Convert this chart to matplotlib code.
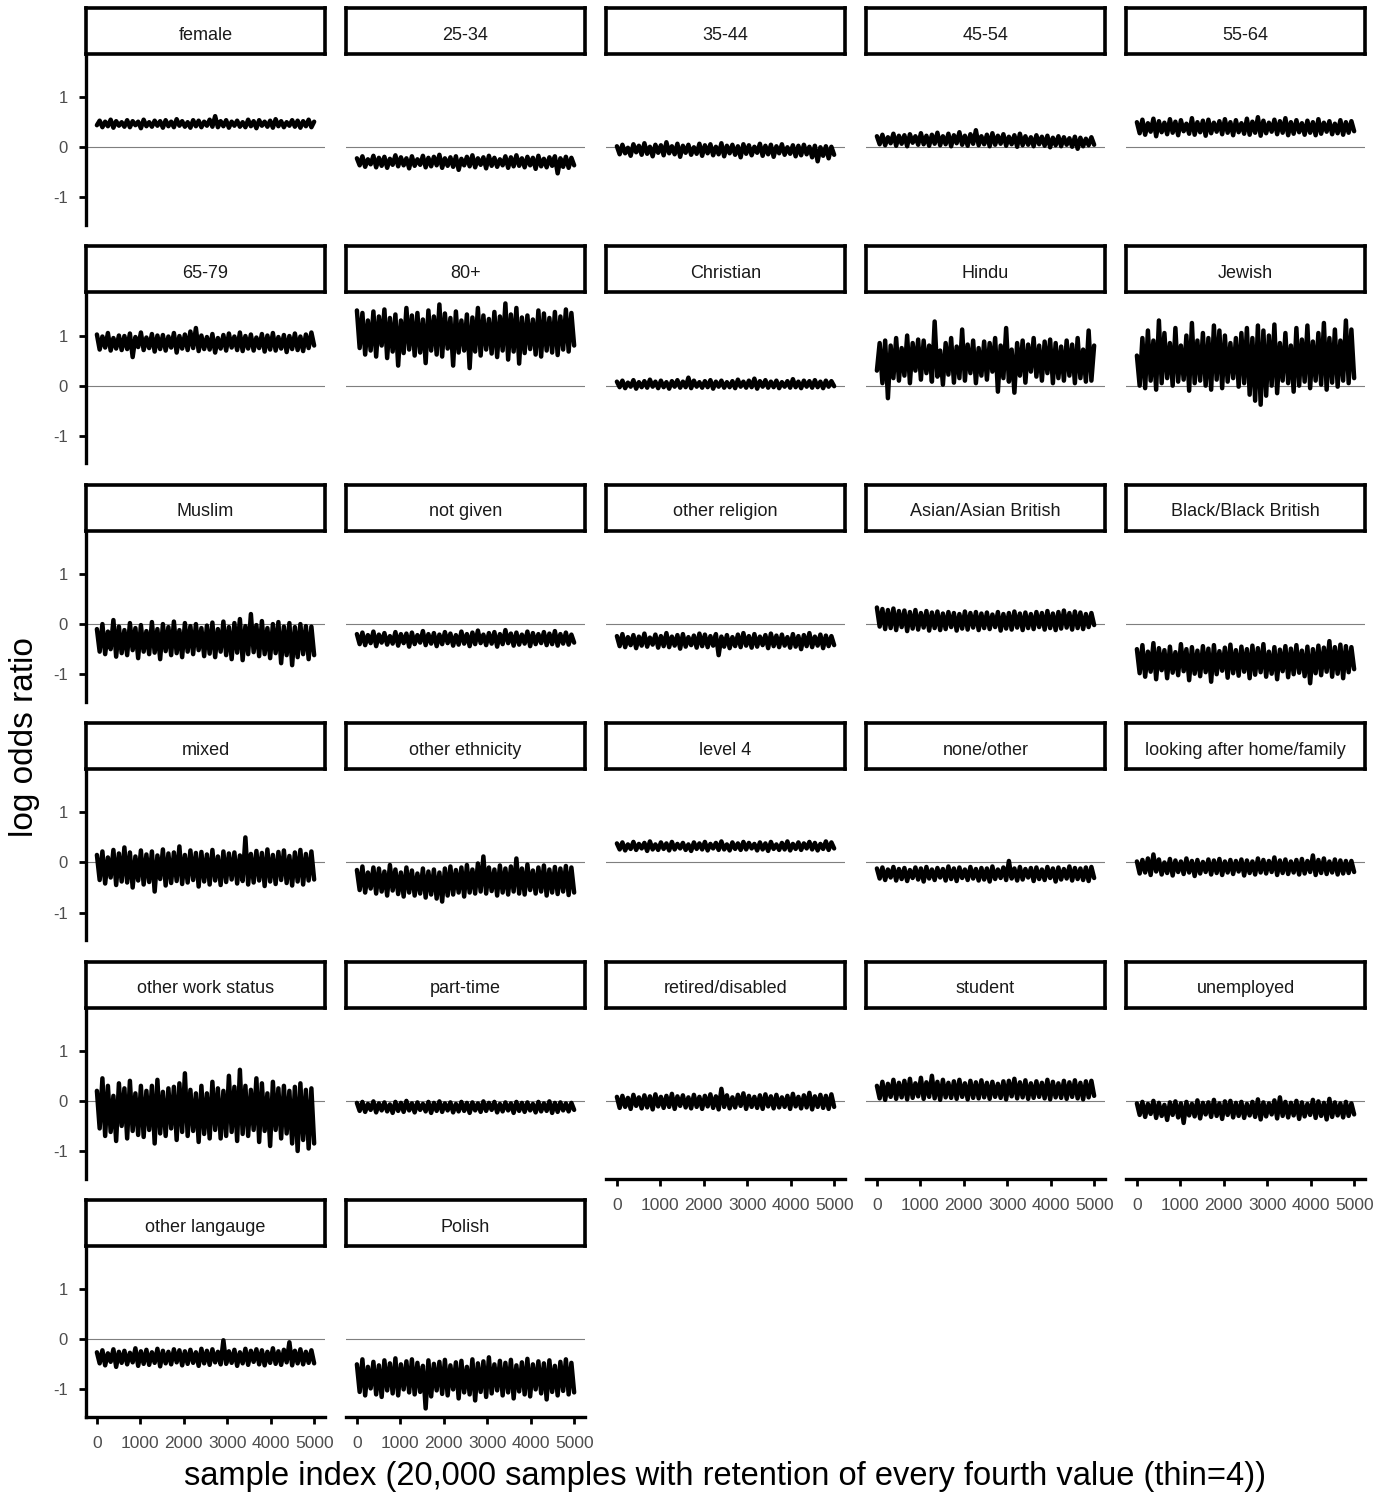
import numpy as np
import matplotlib
matplotlib.use("Agg")
import matplotlib.pyplot as plt

plt.rcParams['font.family'] = ['Liberation Sans', 'DejaVu Sans']

# facet labels, in facet_wrap order (5 columns)
labels = ["female", "25-34", "35-44", "45-54", "55-64",
          "65-79", "80+", "Christian", "Hindu", "Jewish",
          "Muslim", "not given", "other religion", "Asian/Asian British", "Black/Black British",
          "mixed", "other ethnicity", "level 4", "none/other", "looking after home/family",
          "other work status", "part-time", "retired/disabled", "student", "unemployed",
          "other langauge", "Polish"]

# traces (thinned, one value per ~60 samples)
female = [0.44,0.53,0.40,0.51,0.42,0.55,0.39,0.52,0.43,0.50,0.41,0.54,0.40,0.52,0.44,0.51,0.38,0.55,0.42,0.50,
          0.41,0.53,0.43,0.52,0.39,0.54,0.42,0.51,0.40,0.56,0.43,0.52,0.41,0.50,0.39,0.54,0.42,0.53,0.40,0.51,
          0.43,0.55,0.41,0.62,0.40,0.52,0.42,0.54,0.39,0.51,0.43,0.53,0.41,0.50,0.40,0.55,0.42,0.52,0.38,0.54,
          0.43,0.51,0.41,0.53,0.39,0.56,0.42,0.52,0.40,0.50,0.43,0.54,0.41,0.53,0.39,0.52,0.42,0.55,0.40,0.51]
age_25_34 = [-0.22,-0.36,-0.18,-0.39,-0.24,-0.34,-0.17,-0.40,-0.21,-0.37,-0.19,-0.41,-0.23,-0.35,-0.16,-0.38,-0.20,-0.36,-0.22,-0.42,
             -0.18,-0.37,-0.24,-0.35,-0.17,-0.40,-0.21,-0.38,-0.19,-0.36,-0.15,-0.41,-0.22,-0.37,-0.20,-0.39,-0.18,-0.45,-0.23,-0.36,
             -0.19,-0.38,-0.16,-0.40,-0.22,-0.35,-0.20,-0.42,-0.17,-0.37,-0.21,-0.39,-0.24,-0.36,-0.18,-0.41,-0.20,-0.38,-0.16,-0.37,
             -0.22,-0.40,-0.19,-0.36,-0.21,-0.43,-0.17,-0.38,-0.23,-0.40,-0.20,-0.37,-0.18,-0.52,-0.22,-0.39,-0.19,-0.41,-0.21,-0.36]
age_35_44 = [0.02,-0.14,0.05,-0.12,-0.01,-0.17,0.06,-0.10,0.03,-0.15,0.08,-0.13,0.01,-0.18,0.05,-0.11,0.04,-0.16,0.10,-0.12,
             0.02,-0.14,0.07,-0.19,0.03,-0.11,0.05,-0.15,0.00,-0.13,0.07,-0.17,0.04,-0.12,0.06,-0.16,0.01,-0.14,0.08,-0.18,
             0.03,-0.12,0.05,-0.15,0.02,-0.20,0.06,-0.13,0.04,-0.16,0.01,-0.11,0.07,-0.17,0.03,-0.14,0.05,-0.19,0.02,-0.12,
             0.06,-0.15,0.00,-0.13,0.04,-0.18,0.03,-0.16,0.05,-0.14,0.01,-0.20,0.03,-0.28,0.00,-0.17,0.02,-0.22,0.01,-0.15]
age_45_54 = [0.22,0.06,0.25,0.04,0.20,0.08,0.27,0.03,0.23,0.07,0.24,0.02,0.26,0.09,0.22,0.05,0.28,0.06,0.23,0.03,
             0.25,0.07,0.29,0.04,0.22,0.06,0.27,0.02,0.24,0.08,0.30,0.05,0.23,0.03,0.26,0.07,0.34,0.04,0.22,0.06,
             0.25,0.02,0.28,0.05,0.23,0.07,0.26,0.03,0.21,0.06,0.24,0.01,0.27,0.04,0.22,0.05,0.20,0.02,0.24,0.06,
             0.21,0.03,0.23,0.00,0.19,0.04,0.22,0.02,0.20,0.05,0.18,0.01,0.21,-0.03,0.19,0.02,0.17,0.04,0.20,0.05]
age_55_64 = [0.50,0.28,0.55,0.25,0.48,0.31,0.57,0.22,0.52,0.30,0.49,0.26,0.56,0.29,0.51,0.24,0.54,0.32,0.47,0.27,
             0.58,0.25,0.50,0.30,0.53,0.23,0.55,0.28,0.49,0.31,0.52,0.26,0.56,0.29,0.50,0.24,0.54,0.30,0.48,0.27,
             0.57,0.25,0.51,0.29,0.60,0.23,0.53,0.28,0.49,0.31,0.55,0.26,0.52,0.29,0.58,0.24,0.50,0.27,0.54,0.30,
             0.48,0.25,0.53,0.29,0.50,0.24,0.56,0.27,0.49,0.31,0.52,0.26,0.47,0.28,0.54,0.25,0.50,0.29,0.52,0.32]
age_65_79 = [1.02,0.72,0.98,0.76,1.05,0.70,0.95,0.74,1.00,0.71,0.99,0.73,1.04,0.57,0.97,0.77,1.06,0.71,0.96,0.75,
             1.03,0.68,1.00,0.73,1.01,0.70,0.98,0.76,1.05,0.66,0.99,0.74,1.02,0.71,1.08,0.75,1.15,0.69,1.00,0.73,
             0.97,0.72,1.03,0.66,0.95,0.74,1.01,0.70,1.04,0.76,0.98,0.71,1.06,0.69,0.99,0.74,1.02,0.70,0.96,0.75,
             1.03,0.68,1.00,0.72,1.05,0.70,0.97,0.74,1.01,0.67,0.99,0.73,1.04,0.71,0.98,0.69,1.02,0.75,1.06,0.80]
age_80 = [1.50,0.75,1.45,0.62,1.30,0.70,1.48,0.58,1.38,0.80,1.52,0.55,1.35,0.68,1.42,0.40,1.30,0.65,1.55,0.72,
          1.40,0.60,1.45,0.66,1.32,0.45,1.50,0.70,1.38,0.62,1.62,0.58,1.44,0.74,1.35,0.40,1.48,0.66,1.30,0.70,
          1.42,0.35,1.36,0.68,1.55,0.60,1.40,0.72,1.33,0.64,1.47,0.57,1.38,0.70,1.64,0.52,1.42,0.68,1.55,0.44,
          1.36,0.65,1.40,0.73,1.32,0.62,1.50,0.58,1.44,0.70,1.35,0.66,1.47,0.61,1.38,0.72,1.52,0.68,1.45,0.80]
christian = [0.08,-0.03,0.10,-0.05,0.06,-0.02,0.11,-0.06,0.07,-0.03,0.09,-0.04,0.12,-0.02,0.08,-0.05,0.10,-0.03,0.07,-0.06,
             0.09,-0.02,0.11,-0.04,0.08,-0.03,0.16,-0.05,0.10,-0.02,0.07,-0.04,0.09,-0.03,0.11,-0.06,0.08,-0.02,0.10,-0.04,
             0.07,-0.03,0.09,-0.05,0.12,-0.02,0.08,-0.04,0.10,-0.03,0.14,-0.06,0.09,-0.02,0.11,-0.04,0.08,-0.03,0.10,-0.05,
             0.07,-0.02,0.09,-0.04,0.13,-0.03,0.08,-0.05,0.10,-0.02,0.09,-0.04,0.11,-0.03,0.08,-0.05,0.10,-0.02,0.09,-0.01]
hindu = [0.30,0.85,0.05,0.90,-0.25,0.80,0.15,0.95,0.10,0.75,0.20,1.00,0.05,0.85,0.30,0.92,0.12,0.90,0.25,0.80,
         0.08,1.28,0.18,0.70,0.02,0.85,0.22,0.95,0.06,0.78,0.15,1.12,0.10,0.82,0.25,0.90,0.05,0.75,0.20,0.88,
         0.12,0.85,0.28,0.95,-0.12,0.80,0.15,1.15,0.08,0.72,-0.14,0.85,0.20,0.90,0.06,0.82,0.28,0.95,0.18,0.80,
         0.10,0.88,0.25,0.92,0.05,0.85,0.15,0.78,0.10,0.90,0.20,0.82,0.05,0.95,0.15,0.72,0.08,1.10,0.10,0.80]
jewish = [0.60,0.00,0.95,-0.05,1.10,0.10,0.90,-0.08,1.30,0.05,1.05,0.15,0.85,0.00,1.15,0.08,0.80,0.12,1.00,-0.10,
          1.25,0.05,0.90,0.10,1.05,0.00,0.95,-0.08,1.20,0.12,1.10,-0.05,1.00,0.08,0.85,0.15,0.95,-0.02,1.05,0.05,
          1.15,-0.18,0.95,-0.30,1.20,-0.38,1.10,-0.20,1.00,0.00,1.22,-0.15,0.85,0.10,1.05,0.05,0.80,-0.12,1.15,0.00,
          0.92,0.08,1.20,-0.05,0.88,0.10,1.05,0.02,1.25,-0.08,0.95,0.06,1.12,-0.02,0.90,0.10,1.30,0.05,1.12,0.15]
muslim = [-0.10,-0.55,0.00,-0.60,-0.15,-0.50,0.08,-0.65,-0.05,-0.58,-0.12,-0.62,0.02,-0.52,-0.08,-0.68,-0.02,-0.55,-0.14,-0.60,
          0.04,-0.57,-0.10,-0.70,0.00,-0.54,-0.06,-0.62,0.05,-0.58,-0.12,-0.66,0.02,-0.55,-0.04,-0.60,0.00,-0.52,-0.08,-0.64,
          -0.03,-0.59,0.03,-0.66,-0.10,-0.55,0.05,-0.62,-0.06,-0.70,0.02,-0.57,0.10,-0.72,-0.04,-0.60,0.20,-0.56,-0.02,-0.64,
          0.06,-0.60,-0.08,-0.68,0.00,-0.58,0.04,-0.78,-0.05,-0.62,0.02,-0.82,-0.06,-0.66,0.00,-0.60,-0.04,-0.70,-0.05,-0.62]
not_given = [-0.20,-0.40,-0.17,-0.42,-0.22,-0.38,-0.15,-0.44,-0.21,-0.37,-0.18,-0.41,-0.24,-0.39,-0.16,-0.43,-0.20,-0.38,-0.19,-0.45,
             -0.17,-0.40,-0.22,-0.37,-0.14,-0.42,-0.20,-0.39,-0.18,-0.44,-0.21,-0.40,-0.16,-0.38,-0.19,-0.43,-0.22,-0.41,-0.15,-0.39,
             -0.20,-0.44,-0.17,-0.40,-0.13,-0.38,-0.21,-0.42,-0.18,-0.39,-0.16,-0.45,-0.20,-0.40,-0.12,-0.38,-0.19,-0.43,-0.17,-0.41,
             -0.21,-0.39,-0.15,-0.44,-0.18,-0.40,-0.20,-0.38,-0.16,-0.42,-0.19,-0.40,-0.14,-0.43,-0.20,-0.39,-0.17,-0.41,-0.21,-0.37]
other_religion = [-0.24,-0.44,-0.20,-0.46,-0.26,-0.42,-0.22,-0.48,-0.25,-0.43,-0.19,-0.45,-0.27,-0.41,-0.21,-0.47,-0.24,-0.44,-0.18,-0.46,
                  -0.25,-0.43,-0.22,-0.49,-0.20,-0.45,-0.26,-0.42,-0.23,-0.47,-0.19,-0.44,-0.21,-0.46,-0.24,-0.43,-0.20,-0.62,-0.25,-0.45,
                  -0.22,-0.48,-0.26,-0.44,-0.21,-0.46,-0.18,-0.43,-0.24,-0.47,-0.20,-0.45,-0.25,-0.42,-0.22,-0.48,-0.19,-0.44,-0.23,-0.46,
                  -0.21,-0.43,-0.26,-0.47,-0.20,-0.45,-0.24,-0.50,-0.22,-0.44,-0.18,-0.46,-0.25,-0.43,-0.21,-0.48,-0.23,-0.44,-0.24,-0.42]
asian = [0.33,-0.05,0.30,-0.10,0.28,-0.08,0.31,-0.12,0.26,-0.06,0.27,-0.14,0.24,-0.09,0.28,-0.11,0.22,-0.07,0.26,-0.13,
         0.23,-0.08,0.25,-0.12,0.21,-0.10,0.24,-0.06,0.22,-0.13,0.20,-0.09,0.25,-0.11,0.22,-0.07,0.24,-0.12,0.21,-0.08,
         0.23,-0.10,0.19,-0.06,0.24,-0.13,0.20,-0.09,0.22,-0.11,0.25,-0.07,0.21,-0.12,0.23,-0.08,0.20,-0.10,0.24,-0.06,
         0.22,-0.11,0.26,-0.08,0.21,-0.12,0.24,-0.09,0.27,-0.07,0.22,-0.11,0.25,-0.08,0.23,-0.10,0.20,-0.06,0.22,-0.02]
black = [-0.50,-0.98,-0.42,-1.05,-0.55,-0.95,-0.38,-1.10,-0.48,-0.92,-0.52,-1.08,-0.45,-0.97,-0.56,-1.02,-0.40,-0.94,-0.50,-1.12,
         -0.46,-0.99,-0.53,-1.04,-0.44,-0.96,-0.49,-1.15,-0.42,-1.00,-0.54,-0.93,-0.47,-1.07,-0.41,-0.98,-0.52,-1.03,-0.45,-0.95,
         -0.50,-1.08,-0.43,-1.01,-0.48,-0.96,-0.40,-1.05,-0.55,-0.99,-0.46,-1.10,-0.51,-0.94,-0.44,-1.06,-0.49,-1.00,-0.42,-0.97,
         -0.53,-1.04,-0.45,-1.18,-0.50,-0.98,-0.43,-1.02,-0.47,-0.95,-0.34,-1.05,-0.46,-0.99,-0.41,-1.08,-0.44,-0.96,-0.46,-0.90]
mixed = [0.15,-0.35,0.22,-0.42,0.10,-0.30,0.25,-0.45,0.18,-0.38,0.30,-0.40,0.20,-0.50,0.12,-0.36,0.24,-0.44,0.16,-0.39,
         0.22,-0.58,0.14,-0.33,0.26,-0.46,0.18,-0.41,0.20,-0.37,0.32,-0.43,0.15,-0.40,0.24,-0.35,0.19,-0.48,0.21,-0.38,
         0.16,-0.44,0.25,-0.36,0.12,-0.45,0.22,-0.39,0.18,-0.34,0.20,-0.42,0.14,-0.37,0.50,-0.44,0.17,-0.40,0.23,-0.36,
         0.19,-0.47,0.26,-0.38,0.15,-0.43,0.21,-0.35,0.24,-0.41,0.13,-0.46,0.20,-0.38,0.25,-0.44,0.17,-0.36,0.22,-0.34]
other_ethnicity = [-0.15,-0.55,-0.08,-0.60,-0.20,-0.52,-0.10,-0.62,-0.12,-0.58,-0.18,-0.66,-0.05,-0.56,-0.14,-0.63,-0.20,-0.68,-0.10,-0.60,
                   -0.16,-0.66,-0.22,-0.62,-0.12,-0.70,-0.18,-0.64,-0.14,-0.72,-0.20,-0.78,-0.12,-0.66,-0.08,-0.64,-0.15,-0.60,-0.10,-0.68,
                   -0.05,-0.60,-0.14,-0.62,-0.02,-0.58,0.12,-0.62,-0.10,-0.57,-0.14,-0.66,-0.06,-0.60,-0.12,-0.64,-0.08,-0.58,0.08,-0.62,
                   -0.12,-0.64,-0.04,-0.55,-0.16,-0.62,-0.10,-0.58,-0.06,-0.66,-0.14,-0.60,-0.09,-0.63,-0.12,-0.58,-0.07,-0.65,-0.10,-0.60]
level_4 = [0.38,0.26,0.40,0.24,0.36,0.27,0.41,0.25,0.37,0.28,0.39,0.23,0.42,0.26,0.36,0.25,0.40,0.27,0.38,0.24,
           0.41,0.26,0.37,0.28,0.39,0.25,0.36,0.23,0.40,0.27,0.38,0.26,0.41,0.24,0.37,0.28,0.39,0.25,0.42,0.26,
           0.36,0.24,0.40,0.27,0.38,0.25,0.41,0.26,0.39,0.28,0.37,0.24,0.40,0.26,0.38,0.23,0.41,0.27,0.36,0.25,
           0.39,0.26,0.42,0.24,0.37,0.27,0.40,0.25,0.38,0.28,0.41,0.26,0.39,0.24,0.37,0.27,0.42,0.25,0.40,0.28]
none_other = [-0.12,-0.32,-0.10,-0.35,-0.14,-0.30,-0.09,-0.36,-0.13,-0.33,-0.11,-0.37,-0.15,-0.31,-0.10,-0.34,-0.12,-0.38,-0.09,-0.32,
              -0.14,-0.35,-0.11,-0.30,-0.13,-0.36,-0.08,-0.33,-0.12,-0.37,-0.10,-0.31,-0.14,-0.35,-0.09,-0.32,-0.13,-0.36,-0.11,-0.34,
              -0.12,-0.38,-0.08,-0.33,-0.14,-0.31,-0.10,-0.35,0.03,-0.32,-0.12,-0.36,-0.09,-0.34,-0.13,-0.30,-0.11,-0.37,-0.10,-0.33,
              -0.14,-0.35,-0.09,-0.31,-0.12,-0.38,-0.10,-0.34,-0.13,-0.32,-0.08,-0.36,-0.11,-0.33,-0.12,-0.35,-0.10,-0.37,-0.09,-0.31]
looking_after = [0.02,-0.22,0.05,-0.20,0.08,-0.25,0.16,-0.18,0.06,-0.24,0.00,-0.21,0.07,-0.26,0.04,-0.19,0.02,-0.23,0.08,-0.20,
                 0.03,-0.27,0.05,-0.22,0.01,-0.19,0.06,-0.24,0.04,-0.21,0.07,-0.25,0.02,-0.20,0.05,-0.23,0.03,-0.18,0.06,-0.26,
                 0.04,-0.21,0.02,-0.24,0.08,-0.20,0.05,-0.22,0.03,-0.19,0.10,-0.25,0.04,-0.21,0.06,-0.23,0.02,-0.20,0.05,-0.24,
                 0.07,-0.22,0.03,-0.19,0.14,-0.25,0.05,-0.21,0.08,-0.23,0.02,-0.20,0.06,-0.24,0.04,-0.22,0.03,-0.21,0.03,-0.19]
other_work = [0.20,-0.55,0.45,-0.70,0.30,-0.62,0.10,-0.80,0.35,-0.50,0.25,-0.75,0.40,-0.60,0.15,-0.68,0.30,-0.72,0.20,-0.58,
              0.30,-0.85,0.42,-0.65,0.18,-0.70,0.25,-0.55,0.28,-0.78,0.35,-0.62,0.55,-0.70,0.22,-0.60,0.15,-0.82,0.30,-0.66,
              0.15,-0.75,0.38,-0.58,0.25,-0.75,0.20,-0.70,0.50,-0.62,0.28,-0.80,0.62,-0.66,0.30,-0.70,0.22,-0.58,0.45,-0.82,
              0.35,-0.60,0.15,-0.90,0.38,-0.58,0.25,-0.75,0.30,-0.65,0.20,-0.85,0.28,-1.00,0.35,-0.78,0.22,-0.95,0.25,-0.85]
part_time = [-0.04,-0.20,-0.02,-0.22,-0.06,-0.18,-0.01,-0.23,-0.05,-0.19,-0.03,-0.21,-0.07,-0.24,-0.02,-0.20,-0.04,-0.22,0.00,-0.19,
             -0.05,-0.23,-0.03,-0.18,-0.06,-0.21,-0.02,-0.24,-0.04,-0.20,-0.01,-0.22,-0.05,-0.19,-0.03,-0.23,-0.06,-0.21,-0.02,-0.20,
             -0.04,-0.24,-0.03,-0.19,-0.05,-0.22,-0.01,-0.20,-0.04,-0.18,-0.02,-0.23,-0.06,-0.21,-0.03,-0.19,-0.05,-0.24,-0.02,-0.20,
             -0.04,-0.22,-0.03,-0.19,-0.06,-0.23,-0.02,-0.21,-0.05,-0.20,-0.01,-0.24,-0.04,-0.22,-0.03,-0.19,-0.05,-0.21,-0.04,-0.18]
retired = [0.08,-0.14,0.10,-0.12,0.06,-0.16,0.12,-0.10,0.07,-0.15,0.11,-0.13,0.09,-0.17,0.13,-0.11,0.08,-0.14,0.10,-0.12,
           0.14,-0.16,0.09,-0.10,0.11,-0.13,0.07,-0.15,0.12,-0.12,0.08,-0.16,0.10,-0.11,0.13,-0.14,0.09,-0.17,0.24,-0.12,
           0.11,-0.15,0.07,-0.13,0.12,-0.10,0.15,-0.16,0.10,-0.12,0.08,-0.14,0.11,-0.16,0.13,-0.11,0.09,-0.15,0.12,-0.13,
           0.07,-0.12,0.10,-0.16,0.14,-0.11,0.08,-0.15,0.11,-0.13,0.16,-0.17,0.09,-0.12,0.12,-0.14,0.10,-0.16,0.13,-0.12]
student = [0.30,0.05,0.38,0.02,0.34,0.08,0.42,0.04,0.36,0.07,0.40,0.03,0.44,0.06,0.35,0.09,0.46,0.04,0.37,0.08,
           0.50,0.05,0.38,0.02,0.42,0.07,0.36,0.06,0.39,0.04,0.42,0.08,0.35,0.03,0.40,0.06,0.37,0.05,0.41,0.07,
           0.36,0.04,0.38,0.08,0.34,0.06,0.39,0.03,0.40,0.09,0.44,0.05,0.37,0.07,0.41,0.04,0.35,0.06,0.39,0.08,
           0.36,0.05,0.42,0.03,0.38,0.07,0.35,0.06,0.40,0.04,0.37,0.08,0.41,0.05,0.36,0.03,0.39,0.07,0.40,0.10]
unemployed = [-0.05,-0.28,-0.02,-0.32,-0.06,-0.26,0.00,-0.34,-0.04,-0.30,-0.08,-0.38,-0.03,-0.28,-0.01,-0.33,-0.05,-0.44,-0.02,-0.29,
              -0.06,-0.31,0.01,-0.35,-0.04,-0.27,-0.03,-0.32,0.02,-0.30,-0.05,-0.36,-0.01,-0.28,0.00,-0.33,-0.04,-0.30,-0.02,-0.34,
              -0.06,-0.29,-0.02,-0.32,0.03,-0.37,-0.03,-0.31,-0.05,-0.27,0.01,-0.35,0.07,-0.30,-0.02,-0.33,-0.04,-0.29,0.00,-0.36,
              -0.03,-0.31,-0.06,-0.28,0.02,-0.34,-0.01,-0.30,-0.04,-0.37,0.04,-0.32,-0.03,-0.29,-0.05,-0.33,-0.02,-0.30,-0.05,-0.27]
other_language = [-0.26,-0.48,-0.22,-0.52,-0.28,-0.45,-0.20,-0.55,-0.25,-0.47,-0.23,-0.50,-0.27,-0.46,-0.18,-0.53,-0.24,-0.49,-0.21,-0.51,
                  -0.26,-0.47,-0.19,-0.54,-0.23,-0.48,-0.25,-0.50,-0.20,-0.46,-0.22,-0.52,-0.24,-0.49,-0.21,-0.47,-0.26,-0.53,-0.19,-0.48,
                  -0.23,-0.51,-0.20,-0.46,-0.25,-0.50,-0.02,-0.49,-0.24,-0.47,-0.21,-0.53,-0.26,-0.48,-0.19,-0.51,-0.23,-0.45,-0.20,-0.50,
                  -0.22,-0.52,-0.25,-0.47,-0.18,-0.49,-0.24,-0.51,-0.21,-0.46,-0.06,-0.52,-0.23,-0.48,-0.20,-0.50,-0.25,-0.47,-0.22,-0.48]
polish = [-0.50,-1.05,-0.40,-1.12,-0.55,-0.98,-0.45,-1.10,-0.52,-1.15,-0.42,-1.02,-0.48,-1.08,-0.38,-1.12,-0.50,-1.00,-0.44,-1.06,
          -0.40,-1.10,-0.47,-1.05,-0.53,-1.38,-0.42,-1.14,-0.49,-1.02,-0.45,-1.09,-0.41,-1.12,-0.52,-1.00,-0.46,-1.18,-0.43,-1.06,
          -0.55,-1.10,-0.40,-1.22,-0.48,-1.05,-0.44,-1.15,-0.36,-1.08,-0.50,-1.02,-0.43,-1.12,-0.47,-1.06,-0.41,-1.18,-0.52,-1.04,
          -0.46,-1.10,-0.39,-1.14,-0.50,-1.00,-0.44,-1.08,-0.48,-1.20,-0.42,-1.05,-0.53,-1.12,-0.45,-1.03,-0.40,-1.10,-0.47,-1.06]

traces = [female, age_25_34, age_35_44, age_45_54, age_55_64,
          age_65_79, age_80, christian, hindu, jewish,
          muslim, not_given, other_religion, asian, black,
          mixed, other_ethnicity, level_4, none_other, looking_after,
          other_work, part_time, retired, student, unemployed,
          other_language, polish]

n_samples = 5000
y_ticks = [-1, 0, 1]
x_ticks = [0, 1000, 2000, 3000, 4000, 5000]

W, H = 1393, 1499
fig = plt.figure(figsize=(W / 100, H / 100), dpi=100)

ncol = 5
n = len(labels)
tick_col = '#4D4D4D'

for i, (lab, vals) in enumerate(zip(labels, traces)):
    r, c = divmod(i, ncol)
    left = 86 + 260 * c
    top = 56 + 238.4 * r
    ax = fig.add_axes([left / W, 1 - (top + 169) / H, 239 / W, 169 / H])
    x = np.linspace(1, n_samples, len(vals))
    ax.axhline(0, color='#7f7f7f', lw=0.8, zorder=1)
    ax.plot(x, vals, color='black', lw=3.2, solid_joinstyle='round',
            solid_capstyle='round', zorder=2)
    ax.set_xlim(-250, 5250)
    ax.set_ylim(-1.55, 1.82)
    for s in ['top', 'right']:
        ax.spines[s].set_visible(False)
    # bottom panel in its column gets the x axis
    is_bottom = (i + ncol >= n)
    ax.spines['bottom'].set_visible(is_bottom)
    ax.spines['bottom'].set_linewidth(2.4)
    ax.spines['left'].set_visible(c == 0)
    ax.spines['left'].set_linewidth(2.4)
    if c == 0:
        ax.set_yticks(y_ticks)
        ax.set_yticklabels([str(t) for t in y_ticks])
        ax.tick_params(axis='y', length=5, width=2, color='black',
                       labelsize=12, labelcolor=tick_col, pad=8)
    else:
        ax.set_yticks([])
    if is_bottom:
        ax.set_xticks(x_ticks)
        ax.tick_params(axis='x', length=5, width=2, color='black',
                       labelsize=12.5, labelcolor=tick_col, pad=9)
    else:
        ax.set_xticks([])
    ax.patch.set_alpha(0)

    # facet strip
    st = fig.add_axes([left / W, 1 - (8 + 238.4 * r + 46) / H, 239 / W, 46 / H])
    st.set_xticks([])
    st.set_yticks([])
    for s in st.spines.values():
        s.set_linewidth(2.6)
        s.set_color('black')
    st.text(0.5, 0.41, lab, ha='center', va='center', fontsize=13,
            color='#1A1A1A', transform=st.transAxes)

fig.text(725 / W, 1 - 1477 / H,
         'sample index (20,000 samples with retention of every fourth value (thin=4))',
         ha='center', va='center', fontsize=23.5, color='black')
fig.text(25 / W, 1 - 737 / H, 'log odds ratio', rotation=90,
         ha='center', va='center', fontsize=24, color='black')

fig.savefig('out.png', dpi=100)
